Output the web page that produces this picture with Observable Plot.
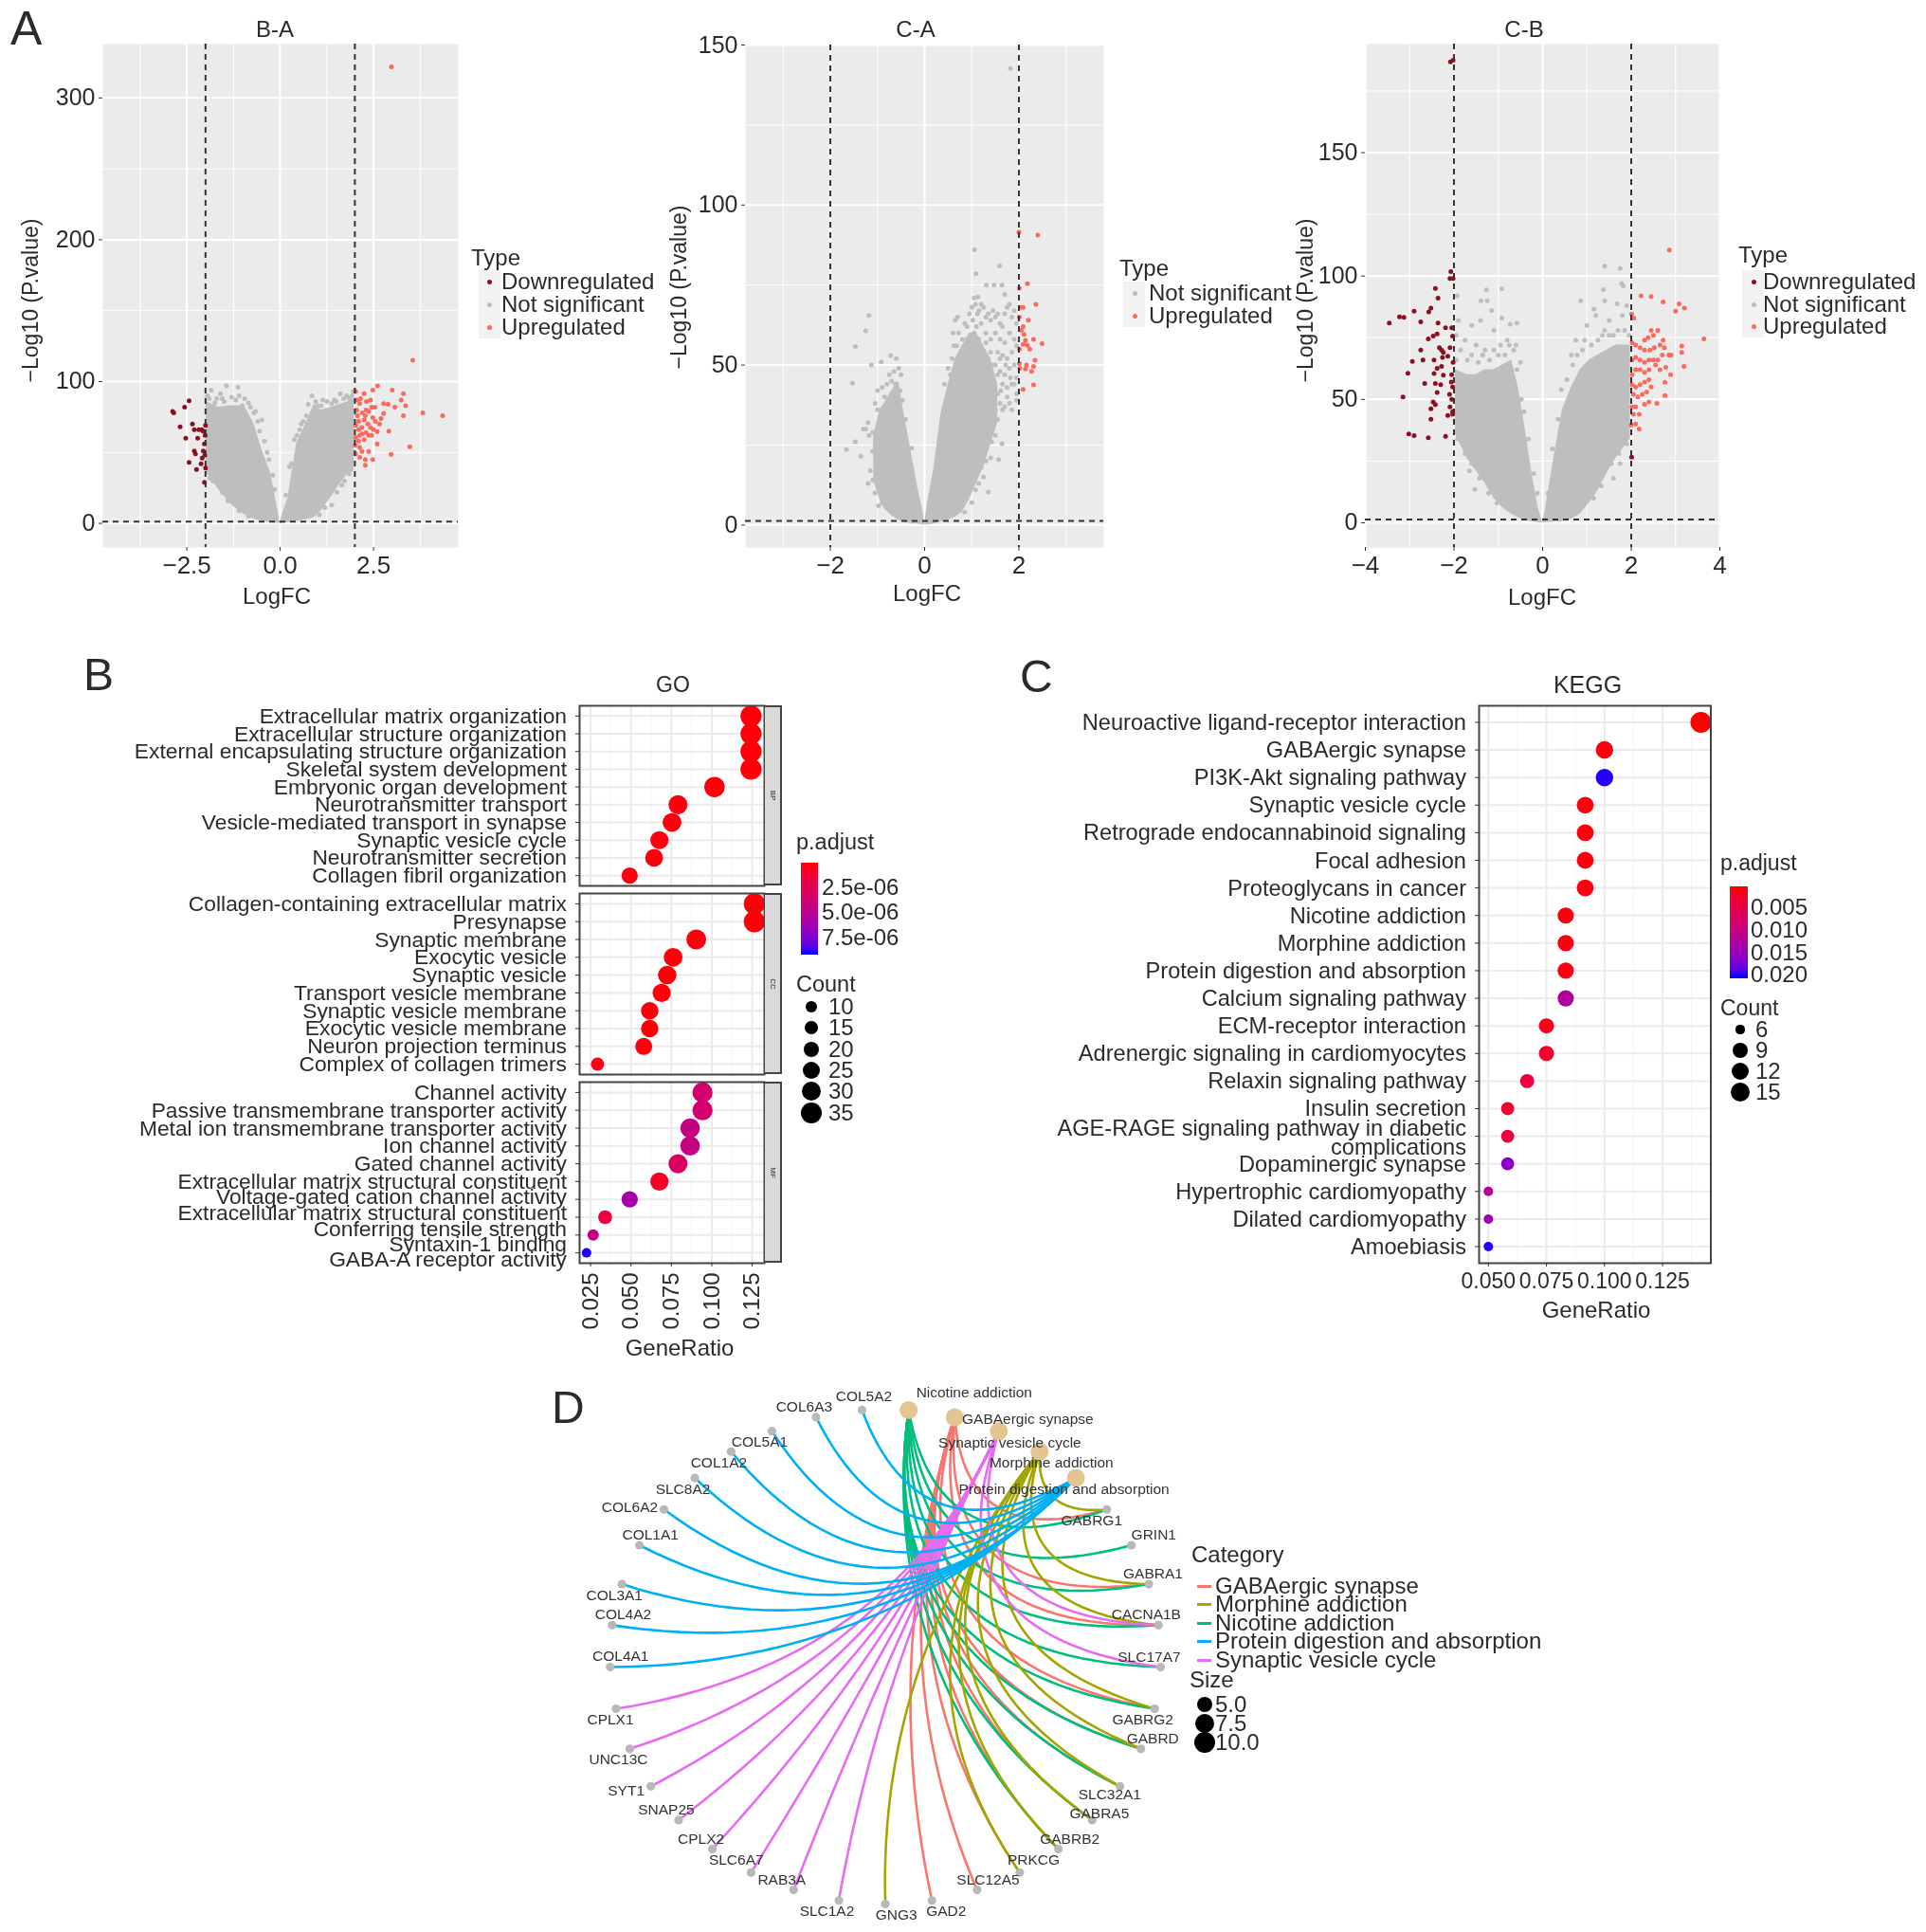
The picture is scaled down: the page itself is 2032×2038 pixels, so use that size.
<!DOCTYPE html>
<html><head><meta charset="utf-8">
<script src="https://cdn.jsdelivr.net/npm/d3@7"></script>
<script src="https://cdn.jsdelivr.net/npm/@observablehq/plot@0.6"></script>
<style>
html,body{margin:0;padding:0;background:#fff}
#root{position:relative;width:2032px;height:2038px;overflow:hidden;font-family:"Liberation Sans",Arial,sans-serif;color:#2b2b2b;filter:blur(.5px)}
#root svg{position:absolute;overflow:visible;background:transparent}
.t{position:absolute;white-space:nowrap;line-height:1}
.b{position:absolute}
</style></head><body><div id="root"></div>
<script>
// ---------- volcano data (LogFC, -log10 P) ----------
const baDown=[[-2.88,79],[-2.85,78],[-2.56,82],[-2.44,86.5],[-2.68,68],[-2.53,60],[-2.35,70],[-2.3,66],[-2.18,66],[-2.06,65],[-2,69],[-2.21,60],[-2.03,56],[-2.06,51],[-2.3,51],[-2.27,49],[-2.44,43],[-2.09,46],[-2.24,38],[-2,39],[-2.03,29],[-2.01,62],[-2.12,42],[-2.1,66],[-2.02,48]];
const baUp=[[2.98,322],[3.55,115],[4.35,76],[3.82,78],[3,94],[3.3,91.5],[2.61,97],[2.48,94],[2.02,93],[2.25,91.5],[3.24,87],[3.36,83],[3.07,82],[2.77,84.5],[2.89,84],[2.42,87],[2.31,86],[2.13,84.5],[2.54,82],[2.37,79],[2.77,77.5],[3.3,76],[2.07,76],[2.25,73],[2.48,74.6],[2.66,70],[2.91,65],[2.02,69],[2.19,67.6],[2.42,67.6],[2.6,64.8],[2.37,62],[2.13,62],[2.02,60.6],[2.25,59],[2.01,55],[2.13,53.5],[2.6,56],[3.47,54],[2.97,48.7],[2.19,50.7],[2.37,50.7],[2.02,49],[2.48,45],[2.28,45],[2.28,41],[2.13,46.5],[2.3,80],[2.2,78],[2.1,72],[2.35,70],[2.5,66],[2.3,64],[2.2,63],[2.45,62],[2.1,58],[2.05,80],[2.15,88],[2.05,87],[2.55,72],[2.7,74],[2.45,82],[2.1,66],[2.28,76]];
const baGray=[[-1.44,97],[-1.13,96],[-1.85,94],[-1.6,91.5],[-1.19,87],[-1.01,83],[-.66,79],[-.49,73],[.85,90],[1.14,87],[1.61,91.5],[1.78,90],[1.96,93],[1.38,84.5],[.56,70],[.38,59],[-1.25,20],[-1.65,27],[-1.89,32],[1.38,13],[1.72,30],[1.9,38],[-1.9,88],[-1.75,85],[-1.5,86],[-.8,82],[.7,76],[1,83],[1.5,86],[1.85,88],[-.3,45],[.25,40],[-1.95,90],[-1.7,88],[-1.55,88],[-1.3,89],[-1.1,90],[-.95,88],[-.85,85],[-.7,78],[-.6,72],[-.55,65],[-.42,58],[-.35,50],[-.2,34],[-.15,24],[.15,20],[.3,42],[.45,62],[.52,66],[.62,72],[.75,84],[.95,86],[1.1,83],[1.25,86],[1.45,87],[1.7,88],[1.92,90],[-1.8,30],[-1.55,22],[-1.4,16],[-1.1,9],[-.85,5],[1.05,6],[1.2,11],[1.52,22],[1.65,27],[1.85,35]];
const baLeft={x:[-1.98,-1.65,-1.3,-.96,-.7,-.49,-.26,-.08,0],lo:[36,24,13,6,3,1.4,.5,0,0],hi:[86,82,83,83,70,52,36,11,0]};
const baRight={x:[0,.05,.2,.44,.68,.91,1.1,1.38,1.6,1.84,1.98],lo:[0,0,.3,1.4,2.5,4,9,19,28,36,39],hi:[0,6,17,56,70,84,80,82,84,86,88]};

const caUp=[[2,91.6],[2.4,90.6],[2.18,75.4],[2.01,74],[2.36,69],[2.09,68],[2.03,68],[2.2,64],[2.01,65],[2.09,62],[2.05,60.8],[2.11,59.6],[2.31,58],[2.14,57.7],[2.49,56.7],[2.18,56.2],[2.09,56.5],[2.23,55],[2.01,55],[2.34,51.5],[2.01,50.5],[2.16,50],[2.31,49.6],[2.02,49],[2.14,48.8],[2.27,48],[2.31,43.8],[2.09,42.4]];
const caGray=[[1.82,142.7],[1.06,86],[1.59,81],[1.09,78.5],[1.31,75],[1.47,75],[1.64,75],[1.7,72],[1.05,71],[1.13,71.3],[-1.18,65.5],[-1.25,60.7],[-1.47,55.8],[-1.53,44.3],[-.72,53],[-1.13,50],[-.92,51],[-1.66,23.6],[-1.47,26],[-1.35,21.5],[1.35,10.3],[1.57,20.5],[1.64,25.4],[.6,60],[.65,64],[.7,65],[.62,56],[.58,52],[.72,60],[.8,58],[.85,63],[.9,62],[.95,66],[1,68],[1.02,64],[1.08,69],[1.12,66],[1.15,67],[1.2,69],[1.25,68],[1.3,65],[1.35,66],[1.4,64],[1.45,67],[1.5,65],[1.55,66],[1.6,63],[1.65,62],[1.7,66],[1.75,68],[1.8,69],[1.85,65],[1.9,67],[1.95,63],[1.3,60],[1.4,58],[1.5,60],[1.6,58],[1.7,57],[1.8,60],[1.9,58],[1.55,54],[1.65,53],[1.75,52],[1.85,54],[1.95,56],[1.6,48],[1.7,47],[1.8,49],[1.9,50],[1.95,46],[1.65,44],[1.75,43],[1.85,44],[1.95,41],[1.55,47],[1.45,50],[1.35,52],[1.5,42],[1.6,38],[1.7,37],[1.8,38],[1.65,36],[1.5,36],[1.55,33],[1.45,40],[1.4,35],[1.45,30],[1.5,28],[1.35,32],[1.3,27],[1.25,24],[1.3,20],[1.2,18],[1.25,15],[1.15,13],[1.4,21],[-.6,52],[-.65,48],[-.55,49],[-.7,45],[-.75,47],[-.8,44],[-.85,40],[-.9,43],[-1,42],[-1.05,38],[-1,36],[-.95,34],[-1.2,32],[-1.25,30],[-1.3,30],[-1.18,28],[-1.1,29],[-1.05,25],[-1.1,23],[-1.15,17],[-1.2,13],[-1.1,14],[-1.05,10],[-.98,6],[-.5,47],[-.62,44],[1.1,62],[1.2,63],[1.3,57],[1.15,58],[1.4,54],[1.5,50],[1.6,52],[1.72,50],[1.82,46],[1.9,44],[1.75,40],[1.85,36],[1.95,39],[1.62,42],[1.55,41],[1.42,46],[1.35,44],[1.28,48],[1.05,60],[.9,58],[.78,54],[.68,56],[.55,47],[.5,49],[.42,44],[1.3,24],[1.35,26],[1.42,26],[1.2,21],[1.08,11],[1,7],[.85,4],[-.92,10],[-.9,7],[-1.02,18],[-.98,22],[-.52,42],[-.47,39],[-.4,33],[-.28,24]];
const caLeft={x:[-1.08,-.95,-.85,-.7,-.55,-.45,-.3,-.15,-.03,0],lo:[14,8,5,3,1.5,1,.5,.3,0,0],hi:[28,36,38,42,45,36,24,12,4,0]};
const caRight={x:[0,.05,.2,.35,.5,.65,.8,.95,1.1,1.25,1.4,1.55],lo:[0,0,.3,1,1.5,2.5,4,8,13,18,25,32],hi:[0,6,18,35,44,52,56,60,60,56,52,44]};

const cbDown=[[-2.08,186.8],[-2.02,187.5],[-2.07,101.8],[-2.02,99],[-2.09,99],[-2.42,95],[-2.36,91],[-2.52,87],[-2.57,85.5],[-2.9,85.8],[-3.46,81],[-3.23,83.5],[-3.13,83.3],[-2.75,81.4],[-2.36,81],[-2.19,79],[-2.05,79],[-2.38,76.5],[-2.47,75.7],[-2.58,74.5],[-2.03,75.7],[-2.75,70],[-2.33,71],[-2.28,70],[-2.09,71],[-2.24,69],[-2.14,67.5],[-2.7,66],[-2.94,65.4],[-2.45,66],[-2.26,67],[-2.28,63.4],[-2.38,62.6],[-3.04,60.6],[-2.45,60.5],[-2.24,59.8],[-2.05,60],[-2.66,56.5],[-2.42,56.5],[-2.3,56],[-2.06,57],[-2.03,55],[-3.15,51],[-2.38,52.8],[-2.47,49],[-2.42,47.9],[-2.52,46.2],[-2.09,47],[-2.03,45],[-2.52,42],[-2.14,43.5],[-2.03,44],[-3.02,36],[-2.9,35.3],[-2.58,34.5],[-2.19,35],[2.01,26.6],[-2.05,50],[-2.1,52],[-2.02,65]];
const cbUp=[[2.86,110.5],[2.22,92],[2.45,91.7],[2.72,89.5],[3.08,88.7],[3.2,87],[3,85.8],[2.01,84.6],[2.06,83],[3.64,74.5],[2.45,78],[2.6,78],[2.5,76],[2.38,75],[2.3,74],[2.72,74],[2.65,72],[2.52,71],[2.42,70],[2.3,70],[2.2,71],[2.1,72],[2.02,73],[2.75,71],[2.85,68],[3.14,71.6],[3.14,69],[3.19,63.4],[2.9,68],[2.7,68],[2.6,66],[2.5,66],[2.4,66],[2.3,65],[2.2,66],[2.1,67],[2.02,66],[2.4,62],[2.3,61],[2.2,62],[2.1,62],[2.02,60],[2.55,64],[2.65,62],[2.78,63],[2.76,56.9],[2.89,60],[2.58,48.4],[2.76,51.6],[2.4,58],[2.3,57],[2.2,56],[2.1,55],[2.02,56],[2.45,55],[2.35,53],[2.25,52],[2.15,51],[2.05,52],[2.4,49],[2.3,48],[2.1,47],[2.02,47],[2.18,44],[2.05,44],[2.18,38],[2,39.7],[2.1,40]];
const cbGray=[[1.4,104],[1.75,103],[1.78,97],[1.82,96],[1.37,94.5],[.86,90],[1.4,90],[1.68,88.7],[1.16,86.6],[-.92,94.8],[-1.27,94.4],[-1.39,90],[-1.25,90],[-1.15,86],[-1.93,92],[-.58,81],[-.73,80.5],[-.92,83],[-1.53,13.5],[-1.9,82],[-1.6,80],[-1.4,82],[-1.1,78],[-.8,74],[-.6,72],[-.5,65],[1,80],[1.2,84],[1.5,82],[1.8,84],[1.9,88],[.95,74],[.75,74],[.65,68],[-1.75,74],[-1.95,76],[-1.5,72],[-1.3,70],[1.6,76],[1.4,78],[-1.95,66],[-1.85,70],[-1.7,66],[-1.6,68],[-1.45,65],[-1.35,68],[-1.2,66],[-1.1,70],[-1,68],[-.95,72],[-.85,68],[-.75,72],[-.65,70],[-.58,62],[-.48,50],[-.42,45],[-.32,34],[-.2,20],[-.12,12],[.12,12],[.22,30],[.35,42],[.42,54],[.55,58],[.68,64],[.78,68],[.9,70],[1.1,72],[1.25,74],[1.35,76],[1.5,76],[1.7,78],[1.85,78],[1.95,76],[-1.92,34],[-1.75,28],[-1.6,24],[-1.42,18],[-1.22,12],[-1.03,8],[1.15,10],[1.32,15],[1.55,24],[1.72,28],[1.9,32],[1.6,18],[1.75,24],[-1.65,21]];
const cbLeft={x:[-1.97,-1.7,-1.5,-1.3,-1.1,-.9,-.7,-.55,-.4,-.25,-.1,0],lo:[36,26,21,16,10,6,3.5,2,1,.5,.1,0],hi:[62,60,60,62,62,64,66,55,39,21,6,0]};
const cbRight={x:[0,.05,.25,.45,.65,.85,1.05,1.25,1.45,1.65,1.85,1.98],lo:[0,0,.3,.5,1.5,3.5,8,13,20,26,31,34],hi:[0,4,26,46,55,62,66,68,70,72,72,72]};

// ---------- GO dot plot ----------
const goBP=["Extracellular matrix organization","Extracellular structure organization","External encapsulating structure organization","Skeletal system development","Embryonic organ development","Neurotransmitter transport","Vesicle-mediated transport in synapse","Synaptic vesicle cycle","Neurotransmitter secretion","Collagen fibril organization"];
const goBPratio=[.1243,.1243,.1243,.1243,.1017,.0791,.0754,.0676,.0643,.0492];
const goBPcount=[33,33,33,33,27,21,20,18,17,13];
const goBPp=[.1e-6,.1e-6,.1e-6,.1e-6,.1e-6,.2e-6,.2e-6,.2e-6,.2e-6,.3e-6];
const goCC=["Collagen-containing extracellular matrix","Presynapse","Synaptic membrane","Exocytic vesicle","Synaptic vesicle","Transport vesicle membrane","Synaptic vesicle membrane","Exocytic vesicle membrane","Neuron projection terminus","Complex of collagen trimers"];
const goCCratio=[.1264,.1264,.0904,.0761,.0724,.069,.0616,.0616,.0579,.0293];
const goCCcount=[34,34,24,20,19,18,16,16,15,8];
const goCCp=[.1e-6,.1e-6,.2e-6,.1e-6,.1e-6,.1e-6,.1e-6,.1e-6,.2e-6,.3e-6];
const goMFlabels=["Channel activity","Passive transmembrane transporter activity","Metal ion transmembrane transporter activity","Ion channel activity","Gated channel activity","Extracellular matrix structural constituent","Voltage-gated cation channel activity","Extracellular matrix structural constituent","Conferring tensile strength","Syntaxin-1 binding","GABA-A receptor activity"];
const goMFlabelRow=[1,2,3,4,5,6,6.87,7.74,8.66,9.54,10.38];
const goMFratio=[.0943,.0943,.0866,.0866,.0791,.0676,.0492,.034,.0266,.0225];
const goMFcount=[25,25,23,23,21,18,13,9,7,6];
const goMFp=[3.6e-6,3.6e-6,4.4e-6,4.4e-6,3e-6,.8e-6,6e-6,1.6e-6,4.6e-6,9.2e-6];

// ---------- KEGG dot plot ----------
const keggTerms=["Neuroactive ligand-receptor interaction","GABAergic synapse","PI3K-Akt signaling pathway","Synaptic vesicle cycle","Retrograde endocannabinoid signaling","Focal adhesion","Proteoglycans in cancer","Nicotine addiction","Morphine addiction","Protein digestion and absorption","Calcium signaling pathway","ECM-receptor interaction","Adrenergic signaling in cardiomyocytes","Relaxin signaling pathway","Insulin secretion","AGE-RAGE signaling pathway in diabetic","complications","Dopaminergic synapse","Hypertrophic cardiomyopathy","Dilated cardiomyopathy","Amoebiasis"];
const keggLabelRow=[1,2,3,4,5,6,7,8,9,10,11,12,13,14,15,15.72,16.4,17.02,18,19,20];
const keggRatio=[.1415,.1,.1,.0917,.0917,.0917,.0917,.0833,.0833,.0833,.0833,.075,.075,.0667,.0583,.0583,.0583,.05,.05,.05];
const keggCount=[17,12,12,11,11,11,11,10,10,10,10,9,9,8,7,7,7,6,6,6];
const keggP=[.0005,.001,.0212,.001,.001,.001,.001,.001,.001,.001,.013,.0015,.003,.004,.003,.004,.0165,.0125,.015,.0212];

// ---------- gene-concept network ----------
const netNodes=["Nicotine addiction","GABAergic synapse","Synaptic vesicle cycle","Morphine addiction","Protein digestion and absorption","GABRG1","GRIN1","GABRA1","CACNA1B","SLC17A7","GABRG2","GABRD","SLC32A1","GABRA5","GABRB2","PRKCG","SLC12A5","GAD2","GNG3","SLC1A2","RAB3A","SLC6A7","CPLX2","SNAP25","SYT1","UNC13C","CPLX1","COL4A1","COL4A2","COL3A1","COL1A1","COL6A2","SLC8A2","COL1A2","COL5A1","COL6A3","COL5A2"];
const netLabelShift=[[69,-18],[77,2],[11.6,12],[12.5,11.5],[-12.5,11.5],[-16,11.5],[23.7,-11],[4.5,-10.7],[-13,-11],[-12,-11],[-12.5,11.5],[12.5,-10.7],[-10.7,8.4],[7.6,-7],[12,-10.7],[14.7,-13],[11.6,-11],[15,11.5],[11.6,11.5],[-12.5,11.5],[-12.5,-11],[-15.6,-13],[-12,-10.7],[-13,-10.7],[-26,5],[-12,11.5],[-6,11.5],[11,-11.5],[11.6,-11],[-8,11.5],[11.6,-11],[-36,-2],[-12.5,11.5],[-13,11.5],[-13,11.5],[-12.5,-11],[2,-14]];
const netCategories=["GABAergic synapse","Morphine addiction","Nicotine addiction","Protein digestion and absorption","Synaptic vesicle cycle"];
const netColors=["#F8766D","#A3A500","#00BF7D","#00B0F6","#E76BF3"];
const gabaGenes=["GABRG1","GABRA1","CACNA1B","GABRG2","GABRD","SLC32A1","GABRA5","GABRB2","PRKCG","SLC12A5","GAD2"];
const morphGenes=["GABRG1","GABRA1","CACNA1B","GABRG2","GABRD","SLC32A1","GABRA5","GABRB2","PRKCG","GNG3"];
const nicGenes=["GABRG1","GRIN1","GABRA1","CACNA1B","SLC17A7","GABRG2","GABRD","GABRA5","GABRB2","SLC32A1"];
const protGenes=["COL5A2","COL6A3","COL5A1","COL1A2","SLC8A2","COL6A2","COL1A1","COL3A1","COL4A2","COL4A1"];
const synGenes=["CPLX1","UNC13C","SYT1","SNAP25","CPLX2","SLC6A7","RAB3A","SLC1A2","SLC17A7","CACNA1B"];

// ---------- helpers ----------
const root=document.getElementById("root");
const FONT='"Liberation Sans",Arial,sans-serif';
const INK="#2b2b2b";
function place(svg,left,top){svg.style.left=left+"px";svg.style.top=top+"px";root.appendChild(svg);}
function txt(s,x,y,size,anchor="start",extra=""){const d=document.createElement("div");d.className="t";d.textContent=s;
  const tx=anchor==="middle"?"-50%":anchor==="end"?"-100%":"0";
  d.style.cssText=`left:${x}px;top:${y}px;font-size:${size}px;transform:translate(${tx},-50%) ${extra};`;root.appendChild(d);return d;}
function box(x,y,w,h,bg,extra=""){const d=document.createElement("div");d.className="b";d.style.cssText=`left:${x}px;top:${y}px;width:${w}px;height:${h}px;background:${bg};${extra}`;root.appendChild(d);return d;}
const xy=a=>a.map(([x,y])=>({x,y}));

function volcano(o){
  const ml=100,mr=10,mt=10,mb=80;
  const svg=Plot.plot({width:o.w+ml+mr,height:o.h+mt+mb,marginLeft:ml,marginRight:mr,marginTop:mt,marginBottom:mb,
    x:{domain:o.xDom,axis:null},y:{domain:o.yDom,axis:null},
    style:{fontFamily:FONT,color:INK,background:"transparent"},
    marks:[
      Plot.frame({fill:"#EBEBEB",stroke:"none"}),
      Plot.ruleX(o.xMin,{stroke:"#fff",strokeWidth:1}),Plot.ruleY(o.yMin,{stroke:"#fff",strokeWidth:1}),
      Plot.ruleX(o.xMaj,{stroke:"#fff",strokeWidth:2}),Plot.ruleY(o.yMaj,{stroke:"#fff",strokeWidth:2}),
      Plot.areaY(o.left.x.map((x,i)=>({x,lo:o.left.lo[i],hi:o.left.hi[i]})),{x:"x",y1:"lo",y2:"hi",fill:"#BEBEBE"}),
      Plot.areaY(o.right.x.map((x,i)=>({x,lo:o.right.lo[i],hi:o.right.hi[i]})),{x:"x",y1:"lo",y2:"hi",fill:"#BEBEBE"}),
      Plot.dot(xy(o.gray),{x:"x",y:"y",r:2.5,fill:"#BEBEBE"}),
      Plot.dot(xy(o.down||[]),{x:"x",y:"y",r:2.5,fill:"#8B1020"}),
      Plot.dot(xy(o.up),{x:"x",y:"y",r:2.5,fill:"#FA6A5E"}),
      Plot.ruleX([-2,2],{stroke:"#333",strokeWidth:2,strokeDasharray:"6,5"}),
      Plot.ruleY([1.3],{stroke:"#333",strokeWidth:2,strokeDasharray:"6,5"}),
      Plot.axisX({ticks:o.xMaj,tickFormat:o.fmt,tickSize:4,fontSize:26,tickPadding:5,label:null,stroke:"#333"}),
      Plot.axisY({ticks:o.yMaj,tickFormat:d3.format("d"),tickSize:4,fontSize:25,tickPadding:4,label:null,stroke:"#333"})
    ]});
  place(svg,o.L-ml,o.T-mt);
  txt(o.title,o.tx,31,24,"middle");
  txt("LogFC",o.xLab[0],o.xLab[1],24,"middle");
  txt("−Log10 (P.value)",o.yLab[0],o.yLab[1],23,"middle","rotate(-90deg)");
  const lg=o.legend;
  txt("Type",lg.tx,lg.ty,24);
  box(lg.bx,lg.rows[0]-12,lg.bw,lg.rows[lg.rows.length-1]-lg.rows[0]+24,"#F2F2F2");
  lg.items.forEach(([n,c],i)=>{
    box(lg.dot-2.5,lg.rows[i]-2.5,5,5,c,"border-radius:50%;");
    txt(n,lg.text,lg.rows[i],24);
  });
}

const dot=(rows,ratio,count,p)=>rows.map((r,i)=>({r,ratio:ratio[i],count:count[i],p:p[i]}));
function dotPanel(o){
  const ml=30,mr=12,mt=6,mb=o.mb||6;
  const rows=d3.range(1,o.n+1);
  const axis=o.axis?[o.axis]:[];
  const svg=Plot.plot({width:o.w+ml+mr,height:o.h+mt+mb,marginLeft:ml,marginRight:mr,marginTop:mt,marginBottom:mb,
    x:{domain:o.xDom,axis:null},y:{domain:[o.n+o.pad,1-o.pad],axis:null},
    color:{type:"linear",domain:o.cDom,range:["red","blue"],interpolate:d3.interpolateLab},
    r:{type:"linear",domain:o.rDom,range:o.rRange},
    style:{fontFamily:FONT,color:INK,background:"transparent"},
    marks:[
      Plot.ruleX(o.xMin,{stroke:"#F2F2F2",strokeWidth:1}),
      Plot.ruleX(o.xMaj,{stroke:"#EBEBEB",strokeWidth:2}),
      Plot.ruleY(rows,{stroke:"#EBEBEB",strokeWidth:2}),
      Plot.dot(o.data,{x:"ratio",y:"r",r:"count",fill:"p",clip:true}),
      Plot.frame({stroke:"#444",strokeWidth:2}),
      Plot.axisY({ticks:rows,tickFormat:()=>"",tickSize:4,label:null,stroke:"#333"}),
      ...axis
    ]});
  place(svg,o.L-ml,o.T-mt);
}
function gradient(x,y,w,h){const stops=d3.range(0,1.001,.1).map(t=>d3.interpolateLab("red","blue")(t)).join(",");box(x,y,w,h,`linear-gradient(to bottom,${stops})`);}

// ---------- A: volcano panels ----------
volcano({L:108,T:46,w:375,h:531,xDom:[-4.75,4.77],yDom:[-17,338],xMaj:[-2.5,0,2.5],xMin:[-3.75,-1.25,1.25,3.75],yMaj:[0,100,200,300],yMin:[50,150,250],fmt:d3.format(".1f"),
  title:"B-A",tx:290,left:baLeft,right:baRight,gray:baGray,down:baDown,up:baUp,xLab:[292,629],yLab:[32,317],
  legend:{tx:497,ty:272,bx:505,bw:23,dot:516,text:529,rows:[297,321,345],items:[["Downregulated","#8B1020"],["Not significant","#BEBEBE"],["Upregulated","#FA6A5E"]]}});
volcano({L:786,T:47,w:378,h:530,xDom:[-3.8,3.8],yDom:[-7,150],xMaj:[-2,0,2],xMin:[-3,-1,1,3],yMaj:[0,50,100,150],yMin:[25,75,125],fmt:d3.format("d"),
  title:"C-A",tx:966,left:caLeft,right:caRight,gray:caGray,up:caUp,xLab:[978,626],yLab:[716,303],
  legend:{tx:1181,ty:283,bx:1185,bw:23,dot:1197,text:1212,rows:[309,333],items:[["Not significant","#BEBEBE"],["Upregulated","#FA6A5E"]]}});
volcano({L:1440,T:46,w:374,h:531,xDom:[-4,4],yDom:[-10,194],xMaj:[-4,-2,0,2,4],xMin:[-3,-1,1,3],yMaj:[0,50,100,150],yMin:[25,75,125,175],fmt:d3.format("d"),
  title:"C-B",tx:1608,left:cbLeft,right:cbRight,gray:cbGray,down:cbDown,up:cbUp,xLab:[1627,630],yLab:[1377,317],
  legend:{tx:1834,ty:269,bx:1838,bw:23,dot:1850,text:1860,rows:[297,321,344],items:[["Downregulated","#8B1020"],["Not significant","#BEBEBE"],["Upregulated","#FA6A5E"]]}});

// ---------- B: GO ----------
const goCfg={L:611,w:195,xDom:[.0182,.1326],xMaj:[.025,.05,.075,.1,.125],xMin:[.0375,.0625,.0875,.1125],cDom:[0,9.3e-6],rDom:[6,8,13,18,25,35],rRange:[5,7,8.6,9.6,10.6,11.3],n:10,pad:.58};
dotPanel({...goCfg,T:744,h:190,data:dot(d3.range(1,11),goBPratio,goBPcount,goBPp)});
dotPanel({...goCfg,T:942,h:191,data:dot(d3.range(1,11),goCCratio,goCCcount,goCCp)});
dotPanel({...goCfg,T:1141,h:191,mb:120,data:dot(d3.range(1,11),goMFratio,goMFcount,goMFp),
  axis:Plot.axisX({ticks:goCfg.xMaj,tickFormat:d3.format(".3f"),tickSize:4,fontSize:24,tickRotate:-90,tickPadding:6,label:null,stroke:"#333"})});
[[744,190,"BP"],[942,191,"CC"],[1141,191,"MF"]].forEach(([y,h,s])=>{
  box(806,y,19,h,"#D9D9D9","border:2px solid #444;box-sizing:border-box;border-left:1px solid #444");
  txt(s,815,y+h/2,8,"middle","rotate(90deg)");
});
const rowY=(T,h,pad,n)=>r=>T+h*((r-1+pad)/(n-1+2*pad));
const LS=22.8;
const by1=rowY(744,190,.58,10),by2=rowY(942,191,.58,10),by3=rowY(1141,191,.58,10);
goBP.forEach((s,i)=>txt(s,598,by1(i+1),LS,"end"));
goCC.forEach((s,i)=>txt(s,598,by2(i+1),LS,"end"));
goMFlabels.forEach((s,i)=>txt(s,598,by3(goMFlabelRow[i]),LS,"end"));
txt("GO",710,722,23,"middle");
txt("GeneRatio",717,1422,24,"middle");
txt("p.adjust",840,889,23.5);
gradient(845,910,18,97);
[["2.5e-06",936],["5.0e-06",962],["7.5e-06",989]].forEach(([s,y])=>txt(s,867,y,24));
txt("Count",840,1039,23.5);
[[10,6,1062],[15,7.2,1084],[20,8.2,1107],[25,9,1129],[30,10,1151],[35,11,1174]].forEach(([s,r,y])=>{box(856-r,y-r,2*r,2*r,"#000","border-radius:50%;");txt(String(s),874,y,24);});

// ---------- C: KEGG ----------
dotPanel({L:1560,T:744,w:244.5,h:588,mb:100,xDom:[.046,.1458],xMaj:[.05,.075,.1,.125],xMin:[.0625,.0875,.1125,.1375],cDom:[.0005,.0215],rDom:[6,7,10,12,17],rRange:[5,6.9,8.6,9.2,11],n:20,pad:.6,
  data:dot(d3.range(1,21),keggRatio,keggCount,keggP),
  axis:Plot.axisX({ticks:[.05,.075,.1,.125],tickFormat:d3.format(".3f"),tickSize:4,fontSize:23,tickPadding:6,label:null,stroke:"#333"})});
const cy=rowY(745.5,588,.6,20);
keggTerms.forEach((s,i)=>txt(s,1547,cy(keggLabelRow[i]),23.6,"end"));
txt("KEGG",1675,722,25,"middle");
txt("GeneRatio",1684,1382,24,"middle");
txt("p.adjust",1815,910,23);
gradient(1825,935,19,97);
[["0.005",957],["0.010",981],["0.015",1005],["0.020",1028]].forEach(([s,y])=>txt(s,1847,y,24));
txt("Count",1815,1063,23);
[[6,4.6,1086],[9,8,1108],[12,9.2,1130],[15,10.4,1152]].forEach(([s,r,y])=>{box(1836-r,y-r,2*r,2*r,"#000","border-radius:50%;");txt(String(s),1852,y,24);});

// ---------- D: gene-concept network ----------
const N=netNodes.length;
const nodes=netNodes.map((name,i)=>{const a=(i+.5)*2*Math.PI/N;return{name,x:Math.sin(a),y:Math.cos(a),i,cat:i<5};});
const byName=new Map(nodes.map(n=>[n.name,n]));
function edges(cat,genes){const a=byName.get(cat);
  return genes.flatMap((g,k)=>{const b=byName.get(g);
    const c=Math.hypot(a.x-b.x,a.y-b.y),s=Math.min(1.1,.58+(c-.83)*.77);
    const mx=(a.x+b.x)/2,my=(a.y+b.y)/2,cx=mx*(1-s),cy2=my*(1-s);
    return d3.range(0,1.0001,1/32).map(t=>({id:k,x:(1-t)*(1-t)*a.x+2*t*(1-t)*cx+t*t*b.x,y:(1-t)*(1-t)*a.y+2*t*(1-t)*cy2+t*t*b.y}));});}
const edgeSets=[["GABAergic synapse",gabaGenes,netColors[0]],["Nicotine addiction",nicGenes,netColors[2]],["Morphine addiction",morphGenes,netColors[1]],["Synaptic vesicle cycle",synGenes,netColors[4]],["Protein digestion and absorption",protGenes,netColors[3]]];
const netSvg=Plot.plot({width:2*290.6+240,height:2*261+100,marginLeft:120,marginRight:120,marginTop:50,marginBottom:50,
  x:{domain:[-1,1],axis:null},y:{domain:[-1,1],axis:null},
  style:{fontFamily:FONT,color:INK,background:"transparent"},
  marks:[
    ...edgeSets.map(([c,g,col])=>Plot.line(edges(c,g),{x:"x",y:"y",z:"id",stroke:col,strokeWidth:2.6,curve:"linear"})),
    Plot.dot(nodes.filter(n=>!n.cat),{x:"x",y:"y",r:4.6,fill:"#B8B8B8"}),
    Plot.dot(nodes.filter(n=>n.cat),{x:"x",y:"y",r:9.5,fill:"#E5C494"}),
    ...nodes.map((n,i)=>Plot.text([n],{x:"x",y:"y",text:"name",dx:netLabelShift[i][0],dy:netLabelShift[i][1],fontSize:15.5,fill:"#333"}))
  ]});
place(netSvg,934-290.6-120,1747-261-50);
txt("Category",1257,1640,24);
netCategories.forEach((c,i)=>{const y=[1673,1692,1712,1731,1751][i];box(1263,y-1.5,15,3,netColors[i]);txt(c,1282,y,24);});
txt("Size",1255,1772,24);
[["5.0",8,1798],["7.5",10,1818],["10.0",11,1838]].forEach(([s,r,y])=>{box(1271-r,y-r,2*r,2*r,"#000","border-radius:50%;");txt(s,1282,y,24);});

// panel letters
txt("A",11,30,50);txt("B",88,712,48);txt("C",1076,714,48);txt("D",582,1485,48);
</script></body></html>
